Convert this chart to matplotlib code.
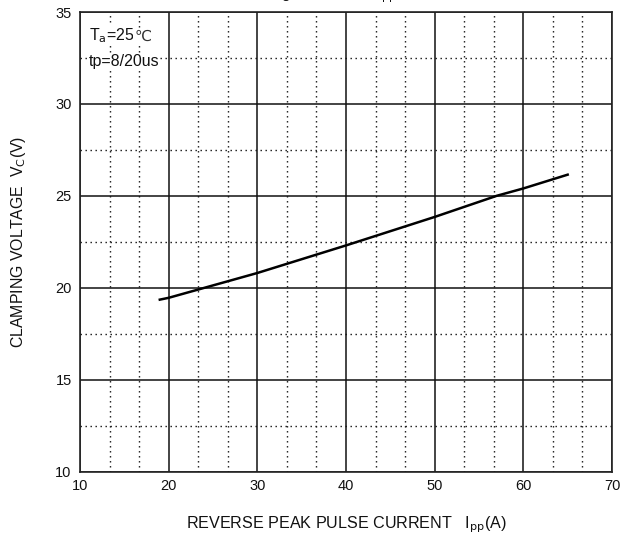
import matplotlib
matplotlib.use("Agg")
import matplotlib.pyplot as plt
import numpy as np

plt.rcParams['font.family'] = ['Liberation Sans', 'DejaVu Sans']

# data
ipp = [19, 20, 30, 40, 50, 57, 60, 65]
vc = [19.35, 19.45, 20.8, 22.3, 23.85, 25.0, 25.4, 26.15]

x_ticks = [10, 20, 30, 40, 50, 60, 70]
y_ticks = [10, 15, 20, 25, 30, 35]

TXT = '#111111'

fig = plt.figure(figsize=(6.21, 5.41), dpi=100)
ax = fig.add_axes([80/621, 1 - 471.5/541, (612-80)/621, (471.5-12)/541])

ax.set_xlim(10, 70)
ax.set_ylim(10, 35)
ax.set_xticks(x_ticks)
ax.set_yticks(y_ticks)
ax.set_xticks(np.arange(10, 70.01, 10/3), minor=True)
ax.set_yticks(np.arange(10, 35.01, 2.5), minor=True)
ax.tick_params(which='both', length=0)
ax.tick_params(axis='x', pad=5.5, labelsize=10.5, colors=TXT)
ax.tick_params(axis='y', pad=6, labelsize=10.5, colors=TXT)

ax.grid(which='major', color='#111111', linewidth=1.1, linestyle='-')
ax.grid(which='minor', color='#111111', linewidth=1.0, linestyle=(0, (1, 2.6)))
ax.set_axisbelow(True)
for s in ax.spines.values():
    s.set_color('#222222')
    s.set_linewidth(1.2)

ax.plot(ipp, vc, color='black', linewidth=1.8, zorder=3)

ax.set_xlabel('REVERSE PEAK PULSE CURRENT   I$_{\\rm pp}$(A)', fontsize=11.6, labelpad=15, color=TXT)
ax.set_ylabel('CLAMPING VOLTAGE  V$_{\\rm C}$(V)', fontsize=11.4, labelpad=20, color=TXT)

# annotation
t1 = ax.text(0.016, 0.938, 'T$_{\\rm a}$=25', transform=ax.transAxes, fontsize=11.5, va='baseline',
             ha='left', color=TXT, bbox=dict(facecolor='white', edgecolor='none', pad=0.5))
ax.text(0.017, 0.883, 'tp=8/20us', transform=ax.transAxes, fontsize=11.5, va='baseline', ha='left',
        color=TXT, bbox=dict(facecolor='white', edgecolor='none', pad=0.5))

fig.canvas.draw()
renderer = fig.canvas.get_renderer()
bb = t1.get_window_extent(renderer=renderer)
x_end = ax.transAxes.inverted().transform((bb.x1, bb.y0))[0]
ax.text(x_end, 0.938, '℃', transform=ax.transAxes, fontsize=11, va='baseline', ha='left',
        color='#333333', family=['DejaVu Sans'],
        bbox=dict(facecolor='white', edgecolor='none', pad=0.5))

# title mostly cut off at the top edge of the image (only descenders show)
title_fs = 11
probe = fig.text(0, 0, 'Volta', fontsize=title_fs)
prefix_w = probe.get_window_extent(renderer=renderer).width
probe.remove()
title_x = (281 - prefix_w) / 621
fig.text(title_x, 1.0 + 1.5/541, 'Voltage vs Current I$_{\\rm pp}$', fontsize=title_fs,
         ha='left', va='baseline', color=TXT)

fig.savefig('out.png', dpi=100)
